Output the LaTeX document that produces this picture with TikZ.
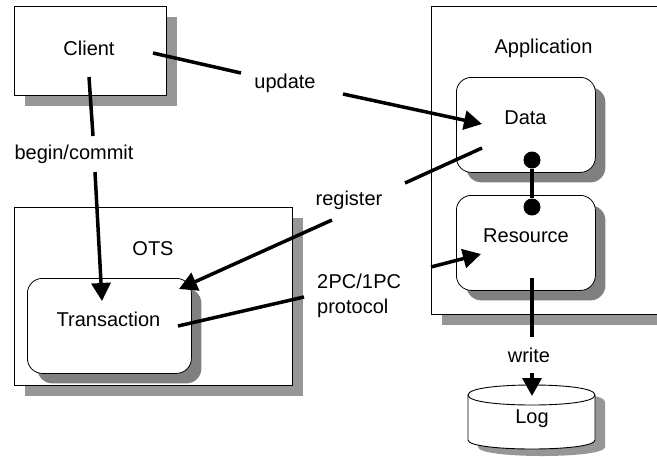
\documentclass[tikz,border=0pt]{standalone}
\usepackage{fontspec}
\setmainfont{Liberation Sans}
\usetikzlibrary{arrows.meta,shadows}
\definecolor{shadelight}{HTML}{969696}
\definecolor{shadedark}{HTML}{808080}
\tikzset{
  lbl/.style={inner sep=0pt,font=\fontsize{20}{25}\selectfont},
  squarebox/.style={draw=black,line width=1.2pt,fill=white,anchor=north west,inner sep=0pt,
    copy shadow={shadow xshift=10pt,shadow yshift=-10pt,draw=none,fill=shadelight}},
  roundbox/.style={draw=black,line width=0.8pt,fill=white,anchor=north west,inner sep=0pt,rounded corners=15pt,
    copy shadow={shadow xshift=10pt,shadow yshift=-10pt,draw=none,fill=shadedark}},
  link/.style={line width=3.5pt,draw=black},
  arrowlink/.style={link,-{Triangle[length=18pt,width=19pt]}},
  dot/.style={circle,fill=black,minimum size=17pt,inner sep=0pt},
  logshape/.style={draw=black,line width=0.9pt,fill=white}
}
\begin{document}
\begin{tikzpicture}[x=1pt,y=-1pt]
\clip (0,0) rectangle (657,456);
\fill[white] (0,0) rectangle (657,456);
% boxes
\node[squarebox,minimum width=152pt,minimum height=89pt] (client) at (14,6) {};
\node[squarebox,minimum width=278pt,minimum height=178pt] (ots) at (14,207) {};
\node[squarebox,minimum width=260pt,minimum height=308pt] (app) at (431,6) {};
\node[roundbox,minimum width=164pt,minimum height=95pt] (trans) at (27,278) {};
\node[roundbox,minimum width=139pt,minimum height=95pt] (data) at (456,77) {};
\node[roundbox,minimum width=139pt,minimum height=95pt] (res) at (456,195) {};
% log cylinder
\fill[shadelight,shift={(10,7)}] (468,395) .. controls (468,388) and (500,385) .. (532,385) .. controls (564,385) and (595,388) .. (595,395) -- (595,440) .. controls (595,446) and (564,449) .. (532,449) .. controls (500,449) and (468,446) .. (468,440) -- cycle;
\path[logshape] (468,395) .. controls (468,388) and (500,385) .. (532,385) .. controls (564,385) and (595,388) .. (595,395) -- (595,440) .. controls (595,446) and (564,449) .. (532,449) .. controls (500,449) and (468,446) .. (468,440) -- cycle;
\draw[black,line width=0.9pt] (468,395) .. controls (468,402) and (500,405) .. (532,405) .. controls (564,405) and (595,402) .. (595,395);
% labels
\node[lbl] (clientL) at (89,48) {Client};
\node[lbl] (otsL) at (153,249) {OTS};
\node[lbl] (appL) at (543.5,48) {Application};
\node[lbl] (transL) at (108.5,319) {Transaction};
\node[lbl] (dataL) at (525.5,118) {Data};
\node[lbl] (resL) at (526,236) {Resource};
\node[lbl] (logL) at (532,419) {Log};
\node[lbl] (updateL) at (285,83) {update};
\node[lbl] (beginL) at (74,154) {begin/commit};
\node[lbl] (registerL) at (349,200) {register};
\node[lbl,align=left,anchor=west] (protoL) at (317,296) {2\kern0.3pt PC/1\kern0.3pt PC\\protocol};
\node[lbl] (writeL) at (529,355) {write};
% connector ends
\coordinate (a1) at (153,53); \coordinate (a2) at (241,73);
\coordinate (a3) at (343,94); \coordinate (a4) at (482,124);
\coordinate (b1) at (89,77);  \coordinate (b2) at (93,136);
\coordinate (b3) at (95,172); \coordinate (b4) at (102,301);
\coordinate (c1) at (482,148); \coordinate (c2) at (405,183);
\coordinate (c3) at (332,220); \coordinate (c4) at (179,289);
\coordinate (d1) at (178,326); \coordinate (d2) at (304,297);
\coordinate (d3) at (431,267); \coordinate (d4) at (481,254);
\coordinate (e1) at (532,278); \coordinate (e2) at (532,337);
\coordinate (e3) at (532,373); \coordinate (e4) at (532,396);
% connectors
\draw[link] (a1) -- (a2);
\draw[arrowlink] (a3) -- (a4);
\draw[link] (b1) -- (b2);
\draw[arrowlink] (b3) -- (b4);
\draw[link] (c1) -- (c2);
\draw[arrowlink] (c3) -- (c4);
\draw[link] (d1) -- (d2);
\draw[arrowlink] (d3) -- (d4);
\draw[link] (e1) -- (e2);
\draw[arrowlink] (e3) -- (e4);
\node[dot] (dot1) at (532,160) {};
\node[dot] (dot2) at (532,207) {};
\draw[link] (dot1) -- (dot2);
\end{tikzpicture}
\end{document}
